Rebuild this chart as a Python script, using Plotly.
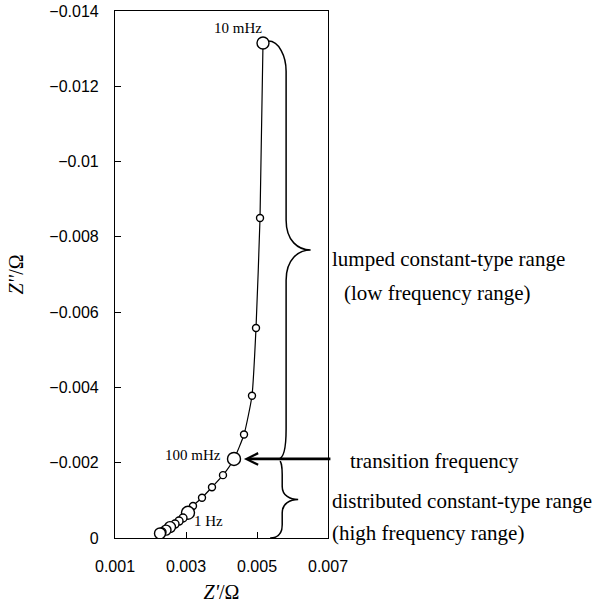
import plotly.graph_objects as go

# Impedance locus, from 10 mHz (top) down to the high-frequency end near the axis
freq_labels = ["10 mHz", "", "", "", "", "100 mHz", "", "", "", "", "1 Hz",
               "", "", "", "", "", "", ""]
z_real = [0.005169, 0.005085, 0.004972, 0.004859, 0.004634, 0.004352,
          0.004042, 0.003732, 0.003451, 0.003197, 0.003056,
          0.002915, 0.002803, 0.002690, 0.002549, 0.002437, 0.002324, 0.002268]
z_imag = [-0.01315, -0.00850, -0.00558, -0.00378, -0.00275, -0.00210,
          -0.00167, -0.00135, -0.00107, -0.00085, -0.00067,
          -0.00053, -0.00045, -0.00037, -0.00029, -0.00021, -0.00016, -0.00012]
marker_size = [12, 7, 7, 7, 7, 13, 7, 7, 7, 7, 13, 8, 8, 8, 11, 10, 8, 11]

x_ticks = [0.001, 0.003, 0.005, 0.007]
x_tick_text = ["0.001", "0.003", "0.005", "0.007"]
y_ticks = [-0.014, -0.012, -0.010, -0.008, -0.006, -0.004, -0.002, 0.0]
y_tick_text = ["\u22120.014", "\u22120.012", "\u22120.01", "\u22120.008",
               "\u22120.006", "\u22120.004", "\u22120.002", "0"]

SERIF = "Liberation Serif, Times New Roman, serif"
SANS = "Liberation Sans, Arial, sans-serif"

fig = go.Figure()
fig.add_trace(go.Scatter(
    x=z_real, y=z_imag, mode="lines+markers",
    line=dict(color="black", width=1.2, shape="spline", smoothing=0.5),
    marker=dict(symbol="circle", size=marker_size, color="white", opacity=1,
                line=dict(color="black", width=1.4)),
    showlegend=False, hoverinfo="skip",
))

i_low = freq_labels.index("10 mHz")
i_mid = freq_labels.index("100 mHz")
i_1hz = freq_labels.index("1 Hz")

# curly brace helper (data units)
def brace(x_start, y_start, x_col, x_tip, y_end, x_end, r):
    y_tipc = (y_start + y_end) / 2
    return (
        f"M{x_start},{y_start} "
        f"C{x_start + (x_col - x_start) * 0.6},{y_start} {x_col},{y_start - r * 0.5} {x_col},{y_start - r} "
        f"L{x_col},{y_tipc + r} "
        f"C{x_col},{y_tipc + r * 0.3} {x_col + (x_tip - x_col) * 0.5},{y_tipc} {x_tip},{y_tipc} "
        f"C{x_col + (x_tip - x_col) * 0.5},{y_tipc} {x_col},{y_tipc - r * 0.3} {x_col},{y_tipc - r} "
        f"L{x_col},{y_end + r} "
        f"C{x_col},{y_end + r * 0.3} {x_col - (x_col - x_end) * 0.4},{y_end} {x_end},{y_end}"
    )

y_top = z_imag[i_low]
y_mid = z_imag[i_mid]
fig.add_shape(type="path", xref="x", yref="y",
              path=brace(z_real[i_low] + 0.00015, y_top - 0.00005, 0.00582, 0.00651,
                         y_mid, 0.00560, -0.0008),
              line=dict(color="black", width=1.5))
fig.add_shape(type="path", xref="x", yref="y",
              path=brace(0.00564, y_mid + 0.00006, 0.00571, 0.00616,
                         0.0, 0.00537, -0.00035),
              line=dict(color="black", width=1.5))

# transition frequency arrow
fig.add_annotation(x=z_real[i_mid] + 0.00028, y=y_mid, ax=0.00711, ay=y_mid,
                   xref="x", yref="y", axref="x", ayref="y", text="",
                   showarrow=True, arrowhead=5, arrowsize=0.85, arrowwidth=2.7,
                   arrowcolor="black", standoff=0)

# frequency labels beside the points
fig.add_annotation(x=z_real[i_low], y=y_top, text="10 mHz", showarrow=False,
                   xanchor="center", yanchor="middle", xshift=-25, yshift=15,
                   font=dict(family=SERIF, size=15, color="black"))
fig.add_annotation(x=z_real[i_mid], y=y_mid, text="100 mHz", showarrow=False,
                   xanchor="right", yanchor="middle", xshift=-11, yshift=4,
                   font=dict(family=SERIF, size=15, color="black"))
fig.add_annotation(x=z_real[i_1hz], y=z_imag[i_1hz], text="1 Hz", showarrow=False,
                   xanchor="left", yanchor="middle", xshift=4, yshift=-8,
                   font=dict(family=SERIF, size=15, color="black"))

# range descriptions to the right of the frame
side_text = [
    ("lumped constant-type range", 1.010, 0.529),
    ("(low frequency range)", 1.066, 0.465),
    ("transition frequency", 1.095, 0.146),
    ("distributed constant-type range", 1.010, 0.070),
    ("(high frequency range)", 1.010, 0.009),
]
for txt, px, py in side_text:
    fig.add_annotation(x=px, y=py, xref="paper", yref="paper", text=txt,
                       showarrow=False, xanchor="left", yanchor="middle",
                       font=dict(family=SERIF, size=21, color="black"))

fig.update_xaxes(
    range=[0.001, 0.007], tickvals=x_ticks, ticktext=x_tick_text,
    ticks="inside", ticklen=6, tickwidth=1, tickcolor="black",
    showline=True, linecolor="black", linewidth=1.2, mirror=True,
    showgrid=False, zeroline=False, ticklabelstandoff=14,
    tickfont=dict(family=SANS, size=16, color="black"),
    title=dict(text="<i>Z'</i>/\u03a9", standoff=10,
               font=dict(family=SERIF, size=20, color="black")),
)
fig.update_yaxes(
    range=[0.0, -0.014], tickvals=y_ticks, ticktext=y_tick_text,
    ticks="inside", ticklen=6, tickwidth=1, tickcolor="black",
    showline=True, linecolor="black", linewidth=1.2, mirror=True,
    showgrid=False, zeroline=False, ticklabelstandoff=12,
    tickfont=dict(family=SANS, size=16, color="black"),
    title=dict(text="<i>Z''</i>/\u03a9", standoff=20,
               font=dict(family=SERIF, size=20, color="black")),
)
fig.update_layout(
    width=603, height=604,
    margin=dict(l=115, r=275, t=11, b=66, autoexpand=False),
    paper_bgcolor="white", plot_bgcolor="white",
)

fig.write_html("out.html")
